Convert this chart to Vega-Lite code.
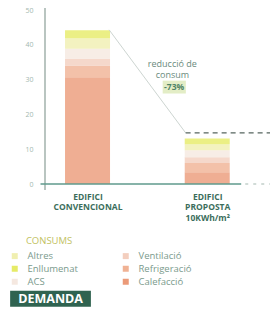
{
  "$schema": "https://vega.github.io/schema/vega-lite/v6.json",
  "autosize": {"type": "none"},
  "width": 235,
  "height": 174,
  "padding": {"left": 40, "top": 10, "right": 0, "bottom": 134},
  "background": "white",
  "config": {"view": {"stroke": null}, "font": "Open Sans"},
  "datasets": {
    "bars": [
      {"edifici": "EDIFICI CONVENCIONAL", "pos": 18.9, "consum": "Calefacció", "ordre": 1, "valor": 30.7},
      {"edifici": "EDIFICI CONVENCIONAL", "pos": 18.9, "consum": "Refrigeració", "ordre": 2, "valor": 3.3},
      {"edifici": "EDIFICI CONVENCIONAL", "pos": 18.9, "consum": "Ventilació", "ordre": 3, "valor": 2.0},
      {"edifici": "EDIFICI CONVENCIONAL", "pos": 18.9, "consum": "ACS", "ordre": 4, "valor": 2.9},
      {"edifici": "EDIFICI CONVENCIONAL", "pos": 18.9, "consum": "Altres", "ordre": 5, "valor": 3.0},
      {"edifici": "EDIFICI CONVENCIONAL", "pos": 18.9, "consum": "Enllumenat", "ordre": 6, "valor": 2.3},
      {"edifici": "EDIFICI PROPOSTA", "pos": 72.1, "consum": "Calefacció", "ordre": 1, "valor": 3.4},
      {"edifici": "EDIFICI PROPOSTA", "pos": 72.1, "consum": "Refrigeració", "ordre": 2, "valor": 2.6},
      {"edifici": "EDIFICI PROPOSTA", "pos": 72.1, "consum": "Ventilació", "ordre": 3, "valor": 1.7},
      {"edifici": "EDIFICI PROPOSTA", "pos": 72.1, "consum": "ACS", "ordre": 4, "valor": 2.0},
      {"edifici": "EDIFICI PROPOSTA", "pos": 72.1, "consum": "Altres", "ordre": 5, "valor": 1.7},
      {"edifici": "EDIFICI PROPOSTA", "pos": 72.1, "consum": "Enllumenat", "ordre": 6, "valor": 1.7}
    ],
    "notes": [
      {"text": "reducció de", "x": 56.6, "y": 34.5},
      {"text": "consum", "x": 56.6, "y": 31.2}
    ]
  },
  "layer": [
    {
      "data": {"name": "bars"},
      "mark": {"type": "bar", "width": 45, "opacity": 0.8},
      "encoding": {
        "x": {"field": "pos", "type": "quantitative", "scale": {"domain": [0, 100], "nice": false},
              "axis": {"values": [18.9, 72.1], "domain": false, "ticks": false, "grid": false, "title": null,
                       "labelExpr": "datum.value < 50 ? ['EDIFICI', 'CONVENCIONAL'] : ['EDIFICI', 'PROPOSTA', '10KWh/m²']",
                       "labelColor": "#3c6e5c", "labelFontSize": 8.5, "labelFontWeight": "bold", "labelPadding": 8, "labelLineHeight": 10.5}},
        "y": {"field": "valor", "type": "quantitative", "stack": "zero", "scale": {"domain": [0, 50], "nice": false},
              "axis": {"values": [0, 10, 20, 30, 40, 50], "tickCount": 6, "domain": false, "ticks": false, "grid": false, "title": null,
                       "labelOverlap": false, "labelColor": "#a3b8b0", "labelFontSize": 7, "labelPadding": 7}},
        "order": {"field": "ordre", "type": "quantitative"},
        "color": {"field": "consum", "type": "nominal",
                  "scale": {"domain": ["Altres", "Enllumenat", "ACS", "Ventilació", "Refrigeració", "Calefacció"],
                            "range": ["#f0efb0", "#e6eb67", "#f5e8e0", "#f3cebe", "#f0b294", "#eb9a78"]},
                  "legend": {"orient": "none", "legendX": -30, "legendY": 241, "title": null, "columns": 2,
                             "symbolType": "square", "symbolSize": 36, "symbolOpacity": 1, "symbolStrokeWidth": 0,
                             "labelColor": "#7a9a8c", "labelFontSize": 9.5, "labelOffset": 8,
                             "columnPadding": 43, "rowPadding": 2, "padding": 0}}
      }
    },
    {
      "data": {"values": [{"x": 52.3, "x2": 62.6, "y": 29.7, "y2": 26.0}]},
      "mark": {"type": "rect", "color": "#e3edc6"},
      "encoding": {
        "x": {"field": "x", "type": "quantitative"},
        "x2": {"field": "x2"},
        "y": {"field": "y", "type": "quantitative"},
        "y2": {"field": "y2"}
      }
    },
    {
      "data": {"values": [{"x": 0, "y": 50.6, "y2": -1.7}]},
      "mark": {"type": "rule", "color": "#8a9e97", "strokeWidth": 1.2},
      "encoding": {"x": {"field": "x", "type": "quantitative"}, "y": {"field": "y", "type": "quantitative"}, "y2": {"field": "y2"}}
    },
    {
      "data": {"values": [{"x": -2, "x2": 87.2, "y": 0}]},
      "mark": {"type": "rule", "color": "#5f9a8c", "strokeWidth": 1.5},
      "encoding": {"x": {"field": "x", "type": "quantitative"}, "x2": {"field": "x2"}, "y": {"field": "y", "type": "quantitative"}}
    },
    {
      "data": {"values": [{"x": 89, "x2": 100, "y": 0}]},
      "mark": {"type": "rule", "color": "#a3b8b0", "strokeWidth": 1.2, "strokeDash": [3, 5]},
      "encoding": {"x": {"field": "x", "type": "quantitative"}, "x2": {"field": "x2"}, "y": {"field": "y", "type": "quantitative"}}
    },
    {
      "data": {"values": [{"x": 28.5, "x2": 62.5, "y": 44.3, "y2": 14.7}]},
      "mark": {"type": "rule", "color": "#cdd5d1", "strokeWidth": 1},
      "encoding": {"x": {"field": "x", "type": "quantitative"}, "x2": {"field": "x2"}, "y": {"field": "y", "type": "quantitative"}, "y2": {"field": "y2"}}
    },
    {
      "data": {"values": [{"x": 62.5, "x2": 100, "y": 14.7}]},
      "mark": {"type": "rule", "color": "#56655f", "strokeWidth": 1.2, "strokeDash": [5, 4]},
      "encoding": {"x": {"field": "x", "type": "quantitative"}, "x2": {"field": "x2"}, "y": {"field": "y", "type": "quantitative"}}
    },
    {
      "data": {"name": "notes"},
      "mark": {"type": "text", "color": "#6a8a7c", "fontSize": 9, "align": "center", "baseline": "middle"},
      "encoding": {"x": {"field": "x", "type": "quantitative"}, "y": {"field": "y", "type": "quantitative"}, "text": {"field": "text"}}
    },
    {
      "data": {"values": [{"text": "-73%", "x": 57.4, "y": 27.8}]},
      "mark": {"type": "text", "color": "#4f8466", "fontSize": 8.5, "fontWeight": "bold", "align": "center", "baseline": "middle"},
      "encoding": {"x": {"field": "x", "type": "quantitative"}, "y": {"field": "y", "type": "quantitative"}, "text": {"field": "text"}}
    },
    {
      "data": {"values": [{"text": "CONSUMS", "x": -8.5, "y": -16.4}]},
      "mark": {"type": "text", "color": "#c2c262", "fontSize": 9.5, "align": "left", "baseline": "middle"},
      "encoding": {"x": {"field": "x", "type": "quantitative"}, "y": {"field": "y", "type": "quantitative"}, "text": {"field": "text"}}
    },
    {
      "data": {"values": [{"x": -15.5, "x2": 20.4, "y": -30.7, "y2": -35.3}]},
      "mark": {"type": "rect", "color": "#2f6350"},
      "encoding": {"x": {"field": "x", "type": "quantitative"}, "x2": {"field": "x2"}, "y": {"field": "y", "type": "quantitative"}, "y2": {"field": "y2"}}
    },
    {
      "data": {"values": [{"text": "DEMANDA", "x": 2.5, "y": -33.1}]},
      "mark": {"type": "text", "color": "white", "fontSize": 12.5, "fontWeight": "bold", "align": "center", "baseline": "middle"},
      "encoding": {"x": {"field": "x", "type": "quantitative"}, "y": {"field": "y", "type": "quantitative"}, "text": {"field": "text"}}
    }
  ]
}
